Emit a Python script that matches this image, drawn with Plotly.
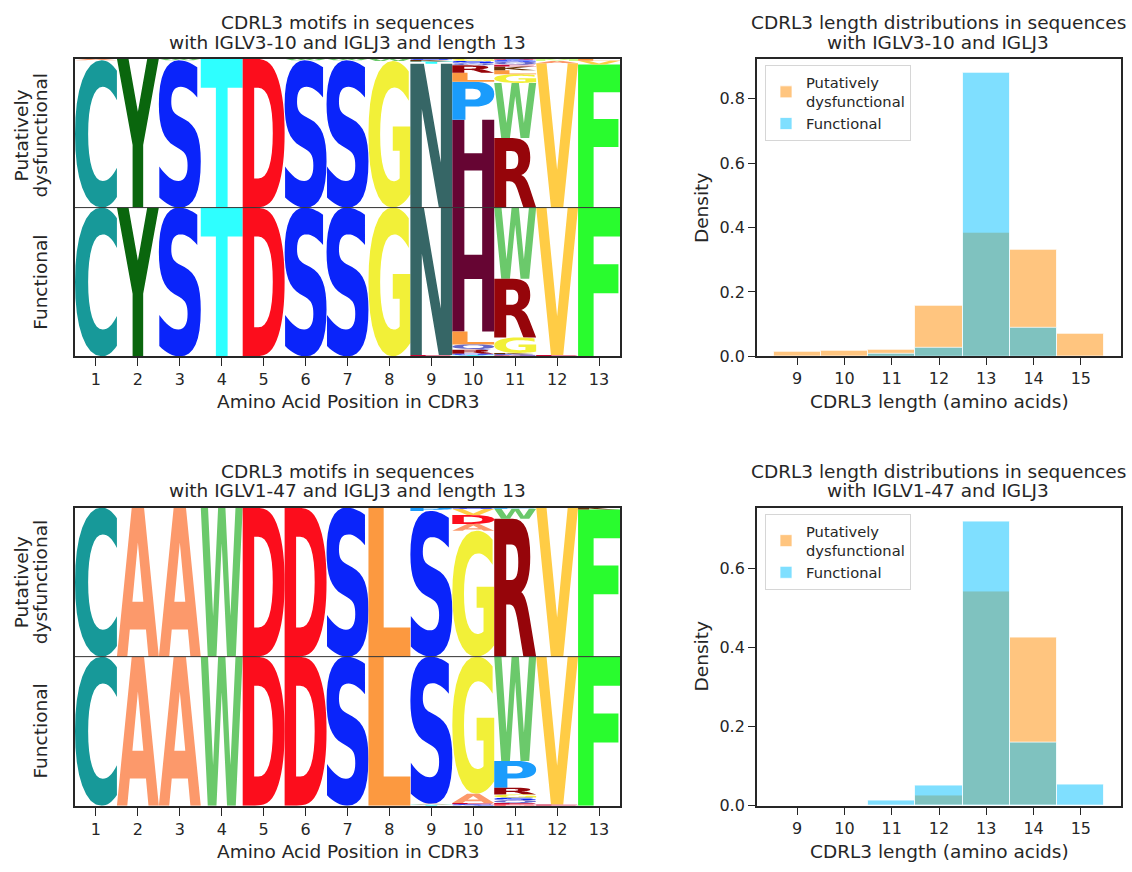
import glob
import os
import struct
import plotly.graph_objects as go

# ---------------------------------------------------------------- data
positions = list(range(1, 14))

# Sequence-logo stacks: per CDR3 position, (amino acid, probability) in stacking order
# from the baseline outward.
v310_dysfunctional = [
    [("C", 0.99), ("A", 0.01)],
    [("Y", 1.00)],
    [("S", 0.99), ("W", 0.01)],
    [("T", 1.00)],
    [("D", 1.00)],
    [("S", 0.99), ("W", 0.01)],
    [("S", 0.99), ("W", 0.01)],
    [("G", 0.985), ("W", 0.015)],
    [("N", 0.967), ("T", 0.015), ("K", 0.010), ("S", 0.008)],
    [("H", 0.590), ("P", 0.256), ("L", 0.060), ("R", 0.050), ("Q", 0.015), ("S", 0.015), ("G", 0.014)],
    [("R", 0.467), ("W", 0.371), ("G", 0.058), ("L", 0.027), ("K", 0.025), ("E", 0.012), ("Q", 0.020),
     ("S", 0.015), ("D", 0.005)],
    [("V", 0.970), ("A", 0.015), ("M", 0.015)],
    [("F", 0.962), ("V", 0.025), ("L", 0.013)],
]
v310_functional = [
    [("C", 1.00)],
    [("Y", 1.00)],
    [("S", 1.00)],
    [("T", 1.00)],
    [("D", 1.00)],
    [("S", 1.00)],
    [("S", 1.00)],
    [("G", 1.00)],
    [("N", 0.99), ("E", 0.01)],
    [("H", 0.833), ("L", 0.087), ("Q", 0.035), ("R", 0.027), ("S", 0.010), ("T", 0.008)],
    [("W", 0.478), ("R", 0.395), ("G", 0.104), ("K", 0.010), ("S", 0.008), ("E", 0.005)],
    [("V", 0.99), ("E", 0.01)],
    [("F", 1.00)],
]
v147_dysfunctional = [
    [("C", 1.00)],
    [("A", 1.00)],
    [("A", 1.00)],
    [("W", 1.00)],
    [("D", 1.00)],
    [("D", 1.00)],
    [("S", 1.00)],
    [("L", 1.00)],
    [("S", 0.978), ("P", 0.022)],
    [("G", 0.845), ("A", 0.045), ("D", 0.060), ("V", 0.040), ("S", 0.010)],
    [("R", 0.925), ("W", 0.068), ("P", 0.007)],
    [("V", 1.00)],
    [("F", 0.987), ("K", 0.013)],
]
v147_functional = [
    [("C", 1.00)],
    [("A", 1.00)],
    [("A", 1.00)],
    [("W", 1.00)],
    [("D", 1.00)],
    [("D", 1.00)],
    [("S", 1.00)],
    [("L", 1.00)],
    [("S", 0.988), ("A", 0.006), ("T", 0.006)],
    [("G", 0.920), ("A", 0.062), ("E", 0.009), ("S", 0.009)],
    [("W", 0.700), ("P", 0.180), ("R", 0.045), ("G", 0.022), ("S", 0.016), ("Q", 0.020), ("E", 0.010),
     ("D", 0.007)],
    [("V", 0.993), ("E", 0.007)],
    [("F", 1.00)],
]

# CDRL3 length histograms (density)
lengths = [9, 10, 11, 12, 13, 14, 15]
v310_dys_density = [0.013, 0.017, 0.020, 0.158, 0.384, 0.331, 0.071]
v310_fun_density = [0.000, 0.000, 0.007, 0.027, 0.880, 0.089, 0.000]
v147_dys_density = [0.000, 0.000, 0.000, 0.025, 0.540, 0.425, 0.000]
v147_fun_density = [0.000, 0.000, 0.0125, 0.050, 0.717, 0.160, 0.054]

# skylign protein colour scheme
aa_colors = {
    'F': (.16, .99, .18), 'Y': (.04, .40, .05), 'L': (.99, .60, .25), 'V': (1.0, .80, .27),
    'I': (.80, .60, .24), 'H': (.40, .02, .20), 'W': (.42, .79, .42), 'A': (.99, .60, .42),
    'S': (.04, .14, .98), 'T': (.18, 1.0, 1.0), 'M': (.80, 1.0, .51), 'N': (.21, .40, .40),
    'Q': (.40, .41, .79), 'R': (.59, .02, .04), 'K': (.40, .20, .03), 'E': (.79, .04, .22),
    'G': (.95, .94, .22), 'D': (.99, .05, .11), 'P': (.10, .61, .99), 'C': (.09, .60, .60),
}

# ---------------------------------------------------------------- style
W, H = 1132, 872
FONT = "DejaVu Sans"
DARK = "#262626"


def rgb(c):
    return "rgb(%d,%d,%d)" % tuple(int(round(v * 255)) for v in c)


# ---------------------------------------------------------------- glyph outlines from TTF
def find_font():
    pats = ['/usr/share/fonts/**/DejaVuSans-Bold.ttf', '/usr/local/share/fonts/**/DejaVuSans-Bold.ttf',
            os.path.expanduser('~/.fonts/**/DejaVuSans-Bold.ttf'),
            os.path.expanduser('~/.local/share/fonts/**/DejaVuSans-Bold.ttf'),
            '/usr/share/fonts/**/LiberationSans-Bold.ttf', '/usr/share/fonts/**/*Bold.ttf']
    for p in pats:
        r = sorted(glob.glob(p, recursive=True))
        if r:
            return r[0]
    return None


class TTF:
    def __init__(self, path):
        d = open(path, 'rb').read()
        self.d = d
        n = struct.unpack('>H', d[4:6])[0]
        t = {}
        for i in range(n):
            tag, cs, off, ln = struct.unpack('>4sIII', d[12 + 16 * i:28 + 16 * i])
            t[tag.decode('latin1')] = off
        head = t['head']
        fmt = struct.unpack('>h', d[head + 50:head + 52])[0]
        maxp = t['maxp']
        ng = struct.unpack('>H', d[maxp + 4:maxp + 6])[0]
        lo = t['loca']
        if fmt == 0:
            self.loca = [struct.unpack('>H', d[lo + 2 * i:lo + 2 * i + 2])[0] * 2 for i in range(ng + 1)]
        else:
            self.loca = [struct.unpack('>I', d[lo + 4 * i:lo + 4 * i + 4])[0] for i in range(ng + 1)]
        self.glyf = t['glyf']
        cm = t['cmap']
        ns = struct.unpack('>H', d[cm + 2:cm + 4])[0]
        sub = None
        for i in range(ns):
            pid, eid, off = struct.unpack('>HHI', d[cm + 4 + 8 * i:cm + 12 + 8 * i])
            f = struct.unpack('>H', d[cm + off:cm + off + 2])[0]
            if f == 4 and pid in (0, 3):
                sub = cm + off
                break
        segx2 = struct.unpack('>H', d[sub + 6:sub + 8])[0]
        seg = segx2 // 2
        self.ends = struct.unpack('>%dH' % seg, d[sub + 14:sub + 14 + segx2])
        self.starts = struct.unpack('>%dH' % seg, d[sub + 16 + segx2:sub + 16 + 2 * segx2])
        self.deltas = struct.unpack('>%dh' % seg, d[sub + 16 + 2 * segx2:sub + 16 + 3 * segx2])
        self.rpos = sub + 16 + 3 * segx2
        self.ranges = struct.unpack('>%dH' % seg, d[self.rpos:self.rpos + segx2])
        self.cache = {}

    def gid(self, ch):
        c = ord(ch)
        for i in range(len(self.ends)):
            if self.starts[i] <= c <= self.ends[i]:
                if self.ranges[i] == 0:
                    return (c + self.deltas[i]) & 0xFFFF
                a = self.rpos + 2 * i + self.ranges[i] + 2 * (c - self.starts[i])
                g = struct.unpack('>H', self.d[a:a + 2])[0]
                return (g + self.deltas[i]) & 0xFFFF if g else 0
        return 0

    def outline(self, ch):
        if ch in self.cache:
            return self.cache[ch]
        d = self.d
        off = self.glyf + self.loca[self.gid(ch)]
        nc = struct.unpack('>h', d[off:off + 2])[0]
        p = off + 10
        endp = struct.unpack('>%dH' % nc, d[p:p + 2 * nc])
        p += 2 * nc
        il = struct.unpack('>H', d[p:p + 2])[0]
        p += 2 + il
        npts = endp[-1] + 1
        flags = []
        while len(flags) < npts:
            f = d[p]
            p += 1
            flags.append(f)
            if f & 8:
                r = d[p]
                p += 1
                flags.extend([f] * r)
        flags = flags[:npts]
        xs, x = [], 0
        for f in flags:
            if f & 2:
                v = d[p]
                p += 1
                x += v if f & 16 else -v
            elif not f & 16:
                x += struct.unpack('>h', d[p:p + 2])[0]
                p += 2
            xs.append(x)
        ys, y = [], 0
        for f in flags:
            if f & 4:
                v = d[p]
                p += 1
                y += v if f & 32 else -v
            elif not f & 32:
                y += struct.unpack('>h', d[p:p + 2])[0]
                p += 2
            ys.append(y)
        contours, s = [], 0
        for e in endp:
            pts = [(xs[i], ys[i], flags[i] & 1) for i in range(s, e + 1)]
            s = e + 1
            contours.append(flatten(pts))
        allp = [q for c in contours for q in c]
        bb = (min(q[0] for q in allp), min(q[1] for q in allp), max(q[0] for q in allp), max(q[1] for q in allp))
        self.cache[ch] = (contours, bb)
        return contours, bb


def flatten(pts):
    n = len(pts)
    ex = []
    for i in range(n):
        x, y, on = pts[i]
        nx, ny, non = pts[(i + 1) % n]
        ex.append((x, y, on))
        if not on and not non:
            ex.append(((x + nx) / 2.0, (y + ny) / 2.0, 1))
    k = next(i for i, q in enumerate(ex) if q[2])
    ex = ex[k:] + ex[:k]
    m = len(ex)
    cur = ex[0]
    out = [(cur[0], cur[1])]
    i = 1
    while i <= m:
        q = ex[i % m]
        if q[2]:
            out.append((q[0], q[1]))
            cur = q
            i += 1
        else:
            e = ex[(i + 1) % m]
            for t in (0.25, 0.5, 0.75, 1.0):
                out.append(((1 - t) ** 2 * cur[0] + 2 * (1 - t) * t * q[0] + t * t * e[0],
                            (1 - t) ** 2 * cur[1] + 2 * (1 - t) * t * q[1] + t * t * e[1]))
            cur = e
            i += 2
    return out


fpath = find_font()
font = TTF(fpath) if fpath else None


def glyph_shape(ch, x0, x1, y0, y1, xref, yref):
    contours, (bx0, by0, bx1, by1) = font.outline(ch)
    sx = (x1 - x0) / float(bx1 - bx0)
    sy = (y1 - y0) / float(by1 - by0)
    parts = []
    for c in contours:
        seg = ["%.4f,%.4f" % (x0 + (px - bx0) * sx, y0 + (py - by0) * sy) for px, py in c]
        parts.append("M" + "L".join(seg) + "Z")
    return dict(type="path", path="".join(parts), xref=xref, yref=yref, fillcolor=rgb(aa_colors[ch]),
                line=dict(width=0), layer="below", fillrule="nonzero")


shapes = []
fallback_ann = []


def add_logo(stacks, direction, xref, yref):
    for pos, stack in zip(positions, stacks):
        base = 0.0
        for aa, prob in stack:
            top = base + direction * prob
            lo, hi = min(base, top), max(base, top)
            if font is not None:
                shapes.append(glyph_shape(aa, pos - 0.5, pos + 0.5, lo, hi, xref, yref))
            base = top


add_logo(v310_dysfunctional, 1, "x", "y")
add_logo(v310_functional, -1, "x", "y")
add_logo(v147_dysfunctional, 1, "x3", "y3")
add_logo(v147_functional, -1, "x3", "y3")

# ---------------------------------------------------------------- figure
fig = go.Figure()

xr_logo = [positions[0] - 0.5, positions[-1] + 0.5]
for xa, ya in (("x", "y"), ("x3", "y3")):
    fig.add_trace(go.Scatter(x=xr_logo, y=[0, 0], mode="lines", line=dict(color="#333333", width=1),
                             xaxis=xa, yaxis=ya, showlegend=False, hoverinfo="skip"))

DYS_COL = "rgba(255,140,0,0.5)"
FUN_COL = "rgba(0,191,255,0.5)"
EDGE = dict(color="rgba(255,255,255,0.75)", width=1)

fig.add_trace(go.Bar(x=lengths, y=v310_dys_density, width=1, marker=dict(color=DYS_COL, line=EDGE),
                     name="Putatively<br>dysfunctional", xaxis="x2", yaxis="y2", legend="legend"))
fig.add_trace(go.Bar(x=lengths, y=v310_fun_density, width=1, marker=dict(color=FUN_COL, line=EDGE),
                     name="Functional", xaxis="x2", yaxis="y2", legend="legend"))
fig.add_trace(go.Bar(x=lengths, y=v147_dys_density, width=1, marker=dict(color=DYS_COL, line=EDGE),
                     name="Putatively<br>dysfunctional", xaxis="x4", yaxis="y4", legend="legend2"))
fig.add_trace(go.Bar(x=lengths, y=v147_fun_density, width=1, marker=dict(color=FUN_COL, line=EDGE),
                     name="Functional", xaxis="x4", yaxis="y4", legend="legend2"))

xL = [75 / W, 620 / W]
xR = [757 / W, 1121 / W]
yT = [1 - 360.5 / H, 1 - 59.5 / H]
yB = [1 - 815 / H, 1 - 513.5 / H]

frame = dict(showline=True, mirror=True, linecolor=DARK, linewidth=1.8, showgrid=False, zeroline=False,
             fixedrange=True)
tickf = dict(size=16, color=DARK, family=FONT)


def logo_x(dom, anchor):
    return dict(frame, domain=dom, anchor=anchor, range=xr_logo, tickvals=positions, ticks="outside",
                ticklen=8, tickwidth=1.3, tickcolor=DARK, tickfont=tickf)


def logo_y(dom, anchor):
    return dict(frame, domain=dom, anchor=anchor, range=[-1, 1], showticklabels=False, ticks="")


hist_xr = [lengths[0] - 0.5 - 0.05 * (len(lengths)), lengths[-1] + 0.5 + 0.05 * (len(lengths))]


def hist_x(dom, anchor):
    return dict(frame, domain=dom, anchor=anchor, range=hist_xr, tickvals=lengths, ticks="outside",
                ticklen=7, tickwidth=1.3, tickcolor=DARK, tickfont=tickf)


def hist_y(dom, anchor, vals):
    return dict(frame, domain=dom, anchor=anchor, range=[0, max(vals) * 1.05],
                tickvals=[0, 0.2, 0.4, 0.6, 0.8], tickformat=".1f", ticks="outside", ticklen=7,
                tickwidth=1.3, tickcolor=DARK, tickfont=tickf)


def ann(text, x, y, size=18.5, angle=0):
    return dict(text=text, x=x / W, y=1 - y / H, xref="paper", yref="paper", xanchor="center",
                yanchor="middle", showarrow=False, textangle=angle,
                font=dict(size=size, color=DARK, family=FONT))


annotations = [
    ann("CDRL3 motifs in sequences", 347.5, 23),
    ann("with IGLV3-10 and IGLJ3 and length 13", 347.5, 43),
    ann("CDRL3 motifs in sequences", 347.5, 476.5),
    ann("with IGLV1-47 and IGLJ3 and length 13", 347.5, 496.5),
    ann("CDRL3 length distributions in sequences", 938, 23),
    ann("with IGLV3-10 and IGLJ3", 938, 43),
    ann("CDRL3 length distributions in sequences", 938, 476.5),
    ann("with IGLV1-47 and IGLJ3", 938, 496.5),
    ann("Amino Acid Position in CDR3", 347.5, 406),
    ann("Amino Acid Position in CDR3", 347.5, 861),
    ann("CDRL3 length (amino acids)", 939, 406),
    ann("CDRL3 length (amino acids)", 939, 861),
    ann("Putatively", 21, 137, angle=-90),
    ann("dysfunctional", 40, 137, angle=-90),
    ann("Functional", 41, 286, angle=-90),
    ann("Putatively", 21, 589, angle=-90),
    ann("dysfunctional", 40, 589, angle=-90),
    ann("Functional", 41, 740, angle=-90),
    ann("Density", 701, 210.5, angle=-90),
    ann("Density", 701, 664, angle=-90),
]

legend_style = dict(xanchor="left", yanchor="top", bgcolor="rgba(255,255,255,0.85)", bordercolor="#d6d6d6",
                    borderwidth=1, font=dict(size=14.7, color=DARK, family=FONT), tracegroupgap=2,
                    itemclick=False)

fig.update_layout(
    width=W, height=H, margin=dict(l=0, r=0, t=0, b=0),
    paper_bgcolor="white", plot_bgcolor="white",
    font=dict(family=FONT, color=DARK),
    barmode="overlay", bargap=0,
    xaxis=logo_x(xL, "y"), yaxis=logo_y(yT, "x"),
    xaxis2=hist_x(xR, "y2"), yaxis2=hist_y(yT, "x2", v310_fun_density + v310_dys_density),
    xaxis3=logo_x(xL, "y3"), yaxis3=logo_y(yB, "x3"),
    xaxis4=hist_x(xR, "y4"), yaxis4=hist_y(yB, "x4", v147_fun_density + v147_dys_density),
    legend=dict(legend_style, x=765 / W, y=1 - 66 / H),
    legend2=dict(legend_style, x=765 / W, y=1 - 520 / H),
    shapes=shapes,
    annotations=annotations,
)

fig.write_html("out.html")
